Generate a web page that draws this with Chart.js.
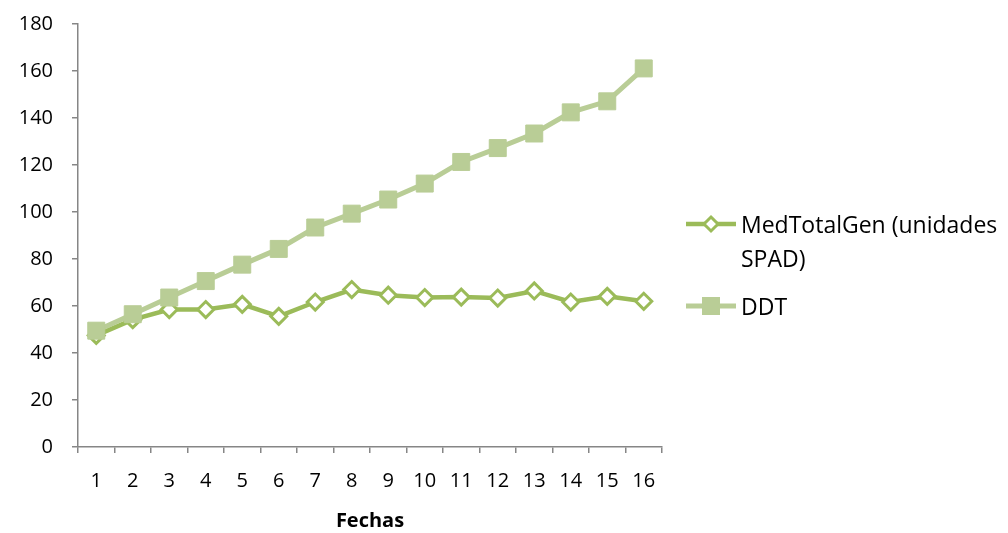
<!DOCTYPE html>
<html>
<head>
<meta charset="utf-8">
<script src="https://cdn.jsdelivr.net/npm/chart.js@4.4.1/dist/chart.umd.min.js"></script>
<style>
  body { margin: 0; background: #fff; font-family: "Open Sans", Lato, sans-serif; }
  #caja { position: relative; width: 1008px; height: 533px; overflow: hidden; }
  #lienzo { position: absolute; left: 0; top: -7px; width: 1008px; height: 540px; }
  .item { position: absolute; left: 684px; display: flex; align-items: flex-start; font-size: 23px; line-height: 34px; color: #000; }
  .item svg { flex: none; margin-right: 3px; }
</style>
</head>
<body>
<div id="caja">
  <div id="lienzo"><canvas id="grafico"></canvas></div>
  <div class="item" style="top:207px">
    <svg width="54" height="34"><line x1="2" y1="17" x2="52" y2="17" stroke="#9BBB59" stroke-width="4.5"/><polygon points="27,10 34,17 27,24 20,17" fill="#fff" stroke="#9BBB59" stroke-width="3"/></svg>
    <span id="ley1"></span>
  </div>
  <div class="item" style="top:289px">
    <svg width="54" height="34"><line x1="2" y1="17" x2="52" y2="17" stroke="#B9CD96" stroke-width="5"/><rect x="18" y="8" width="18" height="18" fill="#B9CD96"/></svg>
    <span id="ley2"></span>
  </div>
</div>
<script>
// datos
const fechas = ['1','2','3','4','5','6','7','8','9','10','11','12','13','14','15','16'];
const medTotalGen = [47.5, 54.2, 58.5, 58.5, 60.7, 55.6, 61.7, 67.0, 64.6, 63.6, 63.8, 63.4, 66.4, 61.7, 64.1, 62.0];
const ddt = [49.5, 56.5, 63.6, 70.6, 77.6, 84.3, 93.4, 99.3, 105.3, 112.1, 121.3, 127.2, 133.4, 142.4, 147.1, 161.1];
const nombres = ['MedTotalGen (unidades SPAD)', 'DDT'];

document.getElementById('ley1').innerHTML = 'MedTotalGen (unidades<br>SPAD)';
document.getElementById('ley2').textContent = nombres[1];

const gris = '#868686';
const fuente = { family: '"Open Sans", Lato, sans-serif', size: 20 };

var ctx = document.getElementById('grafico');
var miGrafico = new Chart(ctx, {
  type: 'line',
  data: {
    labels: fechas,
    datasets: [{
        label: nombres[0],
        data: medTotalGen,
        borderColor: '#9BBB59',
        borderWidth: 4.5,
        pointStyle: 'rectRot',
        pointRadius: 8,
        pointBorderWidth: 3,
        pointBackgroundColor: '#fff',
        pointBorderColor: '#9BBB59',
        order: 1
    }, {
        label: nombres[1],
        data: ddt,
        borderColor: '#B9CD96',
        borderWidth: 5,
        pointStyle: 'rect',
        pointRadius: 12,
        pointBorderWidth: 1,
        pointBackgroundColor: '#B9CD96',
        pointBorderColor: '#B9CD96',
        order: 0
    }]
  },
  options: {
    responsive: true,
    maintainAspectRatio: false,
    animation: false,
    layout: { padding: { top: 0, right: 346, bottom: 0, left: 0 } },
    plugins: { legend: { display: false }, tooltip: { enabled: false } },
    scales: {
        x: {
            offset: true,
            afterFit: s => { s.height = 86; },
            grid: { drawOnChartArea: false, offset: true, tickLength: 6, color: gris, lineWidth: 1.5 },
            border: { color: gris, width: 1.5 },
            ticks: { color: '#000', font: fuente, padding: 16, maxRotation: 0 },
            title: { display: true, text: 'Fechas', color: '#000', font: { family: fuente.family, size: 20, weight: 'bold' }, padding: { top: 0, bottom: 0 } }
        },
        y: {
            min: 0,
            max: 180,
            afterFit: s => { s.width = 78; },
            grid: { drawOnChartArea: false, tickLength: 6, color: gris, lineWidth: 1.5 },
            border: { color: gris, width: 1.5 },
            ticks: { stepSize: 20, color: '#000', font: fuente, padding: 19 }
        }
    }
  }
});
</script>
</body>
</html>
